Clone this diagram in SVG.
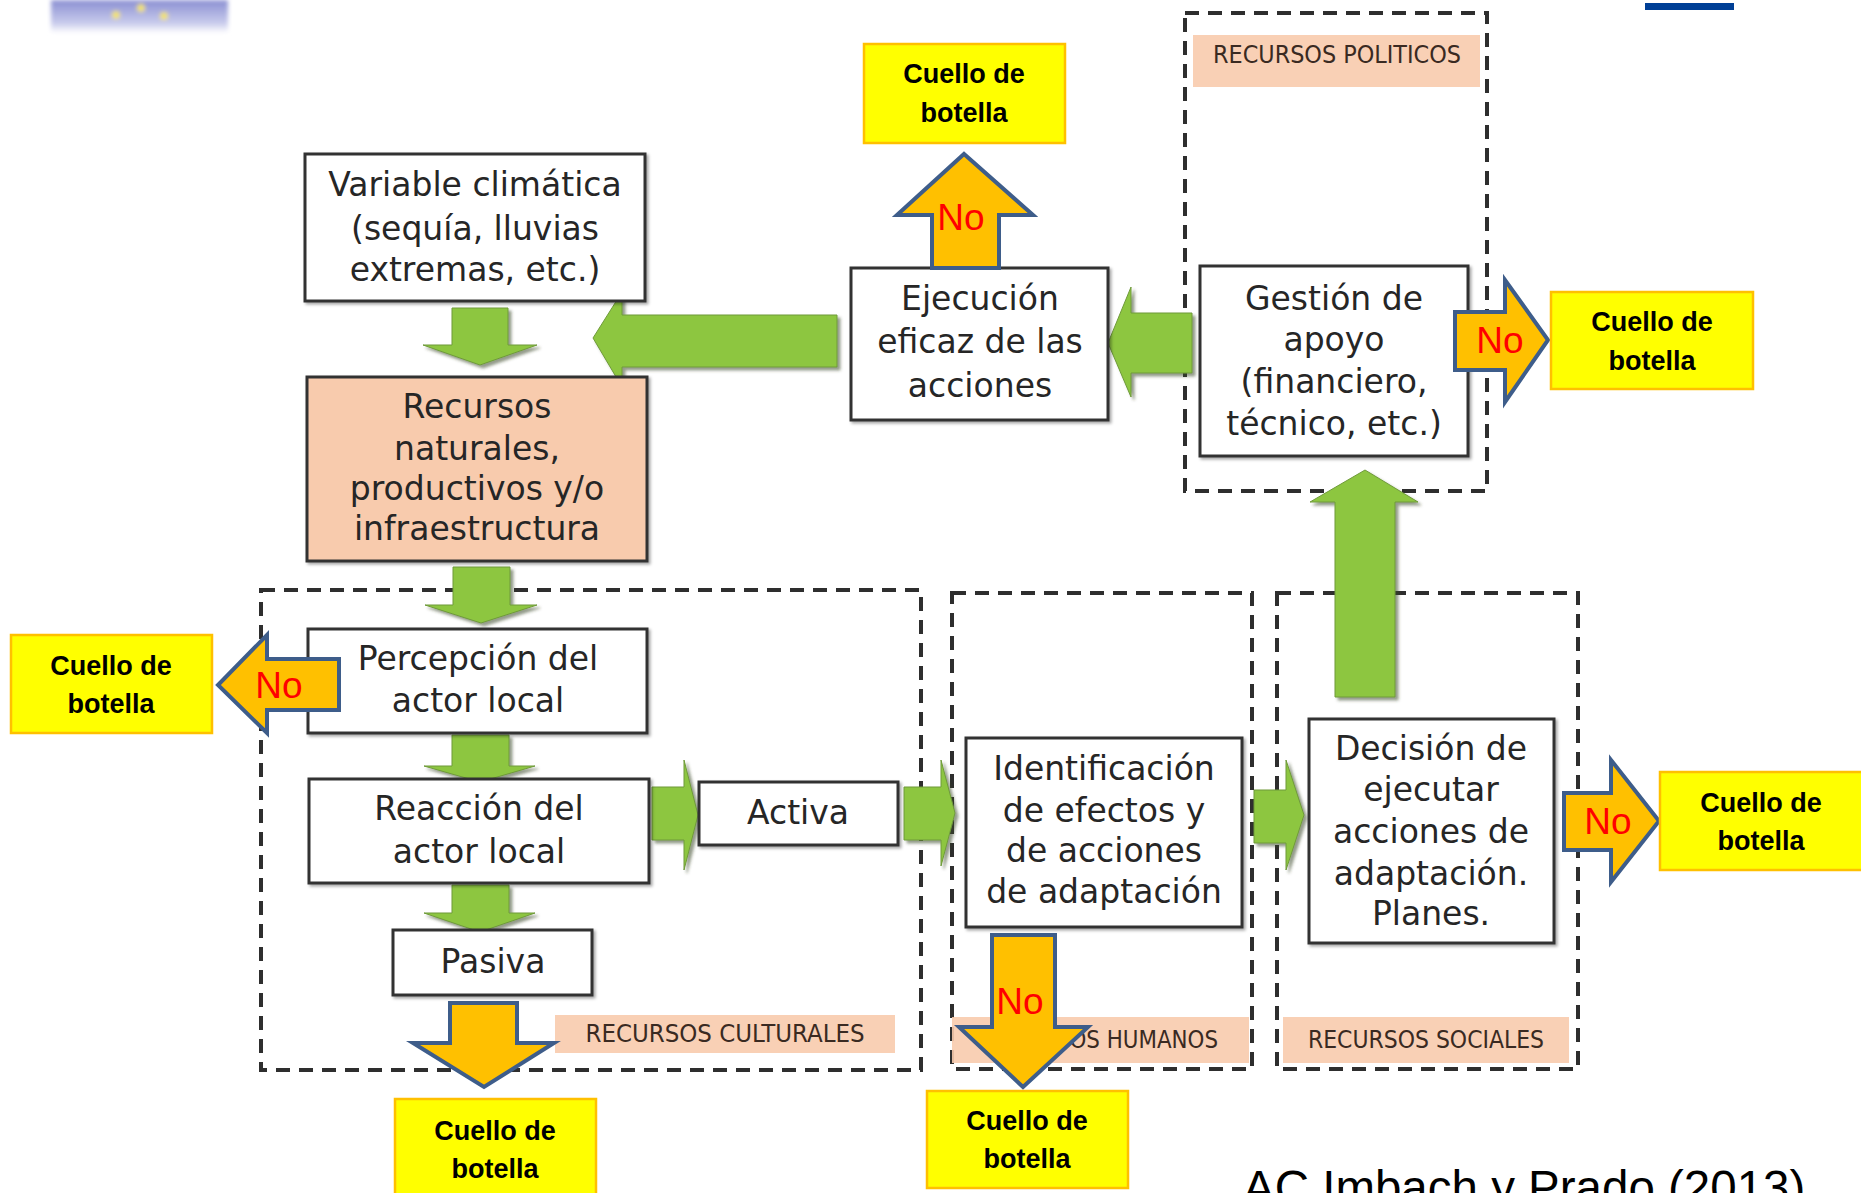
<svg xmlns="http://www.w3.org/2000/svg" width="1861" height="1193" viewBox="0 0 1861 1193">
<style>
.box{fill:#ffffff;stroke:#333333;stroke-width:3;filter:url(#sh)}
.peach{fill:#F8CBAD}
.nt{font-family:"DejaVu Sans",sans-serif;font-size:33px;fill:#262626;text-anchor:middle}
.cont{fill:none;stroke:#2e2e2e;stroke-width:4;stroke-dasharray:14 9}
.lab{fill:#F8CBAD;opacity:0.9}
.lt{font-family:"DejaVu Sans Condensed","DejaVu Sans",sans-serif;font-size:25px;fill:#3a2a22;text-anchor:middle}
.g{fill:#8DC641;stroke:#6f9a3a;stroke-width:1;filter:url(#gsh)}
.o{fill:#FFC000;stroke:#3E5D8A;stroke-width:4;stroke-linejoin:miter}
.no{font-family:"Liberation Sans",Arial,sans-serif;font-size:37px;fill:#FF0000;text-anchor:middle}
.y{fill:#FFFF00;stroke:#FFC000;stroke-width:2.5}
.yt{font-family:"Liberation Sans",Arial,sans-serif;font-size:27px;font-weight:bold;fill:#000000;text-anchor:middle}
</style>
<defs>
<filter id="sh" x="-10%" y="-10%" width="130%" height="130%">
<feDropShadow dx="2" dy="2" stdDeviation="1.5" flood-color="#000000" flood-opacity="0.35"/>
</filter>
<filter id="gsh" x="-20%" y="-20%" width="150%" height="150%">
<feDropShadow dx="3" dy="3" stdDeviation="1.5" flood-color="#3a4a2a" flood-opacity="0.55"/>
</filter>
<linearGradient id="logo" x1="0" y1="0" x2="0" y2="1">
<stop offset="0" stop-color="#8a8fd2"/>
<stop offset="0.7" stop-color="#c8cbec"/>
<stop offset="1" stop-color="#ffffff"/>
</linearGradient>
<filter id="blur"><feGaussianBlur stdDeviation="2"/></filter>
</defs>
<rect width="1861" height="1193" fill="#ffffff"/>

<!-- decorations -->
<g id="logo-fragment" filter="url(#blur)">
<rect x="51" y="0" width="177" height="33" fill="url(#logo)"/>
<circle cx="116" cy="15" r="4" fill="#f3e36a"/>
<circle cx="141" cy="8" r="4" fill="#f3e36a"/>
<circle cx="164" cy="16" r="4" fill="#f3e36a"/>
</g>
<rect id="top-bar" x="1645" y="3" width="89" height="7" fill="#003F96"/>

<!-- containers -->
<g id="recursos-culturales">
<rect class="cont" x="261" y="590" width="660" height="480"/>
<rect class="lab" x="555" y="1015" width="340" height="38"/>
<text class="lt" x="725" y="1042" textLength="279" lengthAdjust="spacingAndGlyphs">RECURSOS CULTURALES</text>
</g>
<g id="recursos-humanos">
<rect class="cont" x="952" y="593" width="300" height="476"/>
<rect class="lab" x="952" y="1017" width="297" height="46"/>
<text class="lt" x="1100" y="1048" textLength="236" lengthAdjust="spacingAndGlyphs">RECURSOS HUMANOS</text>
</g>
<g id="recursos-sociales">
<rect class="cont" x="1277" y="593" width="301" height="476"/>
<rect class="lab" x="1283" y="1017" width="286" height="46"/>
<text class="lt" x="1426" y="1048" textLength="236" lengthAdjust="spacingAndGlyphs">RECURSOS SOCIALES</text>
</g>
<g id="recursos-politicos">
<rect class="cont" x="1185" y="13" width="302" height="478"/>
<rect class="lab" x="1193" y="35" width="287" height="52"/>
<text class="lt" x="1337" y="63" textLength="248" lengthAdjust="spacingAndGlyphs">RECURSOS POLITICOS</text>
</g>

<!-- connectors -->
<g id="connectors">
<polygon class="g" points="452,308 508,308 508,345 537,345 480,365 423,345 452,345"/>
<polygon class="g" points="453,567 510,567 510,605 537,605 481,623 425,605 453,605"/>
<polygon class="g" points="452,735 509,735 509,766 535,766 480,782 424,766 452,766"/>
<polygon class="g" points="452,885 509,885 509,913 535,913 480,932 424,913 452,913"/>
<polygon class="g" points="652,787 684,787 684,760 698,815 684,870 684,840 652,840"/>
<polygon class="g" points="904,787 941,787 941,760 955,813 941,866 941,840 904,840"/>
<polygon class="g" points="1254,790 1286,790 1286,760 1304,815 1286,870 1286,843 1254,843"/>
<polygon class="g" points="1335,697 1335,502 1310,502 1365,470 1418,502 1395,502 1395,697"/>
<polygon class="g" points="1192,313 1131,313 1131,287 1108,343 1131,397 1131,373 1192,373"/>
<polygon class="g" points="837,315 622,315 622,292 593,338 622,387 622,367 837,367"/>
</g>

<!-- nodes -->
<g id="n-variable">
<rect class="box" x="305" y="154" width="340" height="147"/>
<text class="nt" x="475" y="196">Variable climática</text>
<text class="nt" x="475" y="240">(sequía, lluvias</text>
<text class="nt" x="475" y="281">extremas, etc.)</text>
</g>
<g id="n-recursos">
<rect class="box peach" x="307" y="377" width="340" height="184" style="fill:#F8CBAD"/>
<text class="nt" x="477" y="418">Recursos</text>
<text class="nt" x="477" y="460">naturales,</text>
<text class="nt" x="477" y="500">productivos y/o</text>
<text class="nt" x="477" y="540">infraestructura</text>
</g>
<g id="n-ejecucion">
<rect class="box" x="851" y="268" width="257" height="152"/>
<text class="nt" x="980" y="310">Ejecución</text>
<text class="nt" x="980" y="353">eficaz de las</text>
<text class="nt" x="980" y="397">acciones</text>
</g>
<g id="n-gestion">
<rect class="box" x="1200" y="266" width="268" height="190"/>
<text class="nt" x="1334" y="310">Gestión de</text>
<text class="nt" x="1334" y="351">apoyo</text>
<text class="nt" x="1334" y="393">(financiero,</text>
<text class="nt" x="1334" y="435">técnico, etc.)</text>
</g>
<g id="n-percepcion">
<rect class="box" x="308" y="629" width="339" height="104"/>
<text class="nt" x="478" y="670">Percepción del</text>
<text class="nt" x="478" y="712">actor local</text>
</g>
<g id="n-reaccion">
<rect class="box" x="309" y="779" width="340" height="104"/>
<text class="nt" x="479" y="820">Reacción del</text>
<text class="nt" x="479" y="863">actor local</text>
</g>
<g id="n-activa">
<rect class="box" x="699" y="782" width="199" height="63"/>
<text class="nt" x="798" y="824">Activa</text>
</g>
<g id="n-pasiva">
<rect class="box" x="393" y="930" width="199" height="65"/>
<text class="nt" x="493" y="973">Pasiva</text>
</g>
<g id="n-identificacion">
<rect class="box" x="966" y="738" width="276" height="189"/>
<text class="nt" x="1104" y="780">Identificación</text>
<text class="nt" x="1104" y="822">de efectos y</text>
<text class="nt" x="1104" y="862">de acciones</text>
<text class="nt" x="1104" y="903">de adaptación</text>
</g>
<g id="n-decision">
<rect class="box" x="1309" y="719" width="245" height="224"/>
<text class="nt" x="1431" y="760">Decisión de</text>
<text class="nt" x="1431" y="801">ejecutar</text>
<text class="nt" x="1431" y="843">acciones de</text>
<text class="nt" x="1431" y="885">adaptación.</text>
<text class="nt" x="1431" y="925">Planes.</text>
</g>

<!-- "No" arrows -->
<g id="no-arrows">
<g id="no-ejecucion">
<polygon class="o" points="932,268 932,215 897,215 964,154 1033,215 999,215 999,268"/>
<text class="no" x="961" y="230">No</text>
</g>
<g id="no-gestion">
<polygon class="o" points="1455,312 1505,312 1505,280 1548,340 1505,402 1505,370 1455,370"/>
<text class="no" x="1500" y="353">No</text>
</g>
<g id="no-percepcion">
<polygon class="o" points="339,659 267,659 267,635 218,685 267,733 267,710 339,710"/>
<text class="no" x="279" y="698">No</text>
</g>
<g id="no-decision">
<polygon class="o" points="1564,793 1611,793 1611,760 1659,821 1611,882 1611,850 1564,850"/>
<text class="no" x="1608" y="834">No</text>
</g>
<g id="no-pasiva">
<polygon class="o" points="450,1003 517,1003 517,1043 554,1043 484,1087 413,1043 450,1043"/>
</g>
<g id="no-identificacion">
<polygon class="o" points="992,935 1055,935 1055,1027 1088,1027 1023,1087 959,1027 992,1027"/>
<text class="no" x="1020" y="1014">No</text>
</g>
</g>

<!-- bottleneck boxes -->
<g id="cuello-1">
<rect class="y" x="864" y="44" width="201" height="99"/>
<text class="yt" x="964" y="83">Cuello de</text>
<text class="yt" x="964" y="122">botella</text>
</g>
<g id="cuello-2">
<rect class="y" x="1551" y="292" width="202" height="97"/>
<text class="yt" x="1652" y="331">Cuello de</text>
<text class="yt" x="1652" y="370">botella</text>
</g>
<g id="cuello-3">
<rect class="y" x="11" y="635" width="201" height="98"/>
<text class="yt" x="111" y="675">Cuello de</text>
<text class="yt" x="111" y="713">botella</text>
</g>
<g id="cuello-4">
<rect class="y" x="1660" y="772" width="203" height="98"/>
<text class="yt" x="1761" y="812">Cuello de</text>
<text class="yt" x="1761" y="850">botella</text>
</g>
<g id="cuello-5">
<rect class="y" x="395" y="1099" width="201" height="100"/>
<text class="yt" x="495" y="1140">Cuello de</text>
<text class="yt" x="495" y="1178">botella</text>
</g>
<g id="cuello-6">
<rect class="y" x="927" y="1091" width="201" height="97"/>
<text class="yt" x="1027" y="1130">Cuello de</text>
<text class="yt" x="1027" y="1168">botella</text>
</g>

<text id="citation" x="1243" y="1204" font-family="'Liberation Sans',Arial,sans-serif" font-size="47.5" fill="#000000">AC Imbach y Prado (2013)</text>
</svg>
